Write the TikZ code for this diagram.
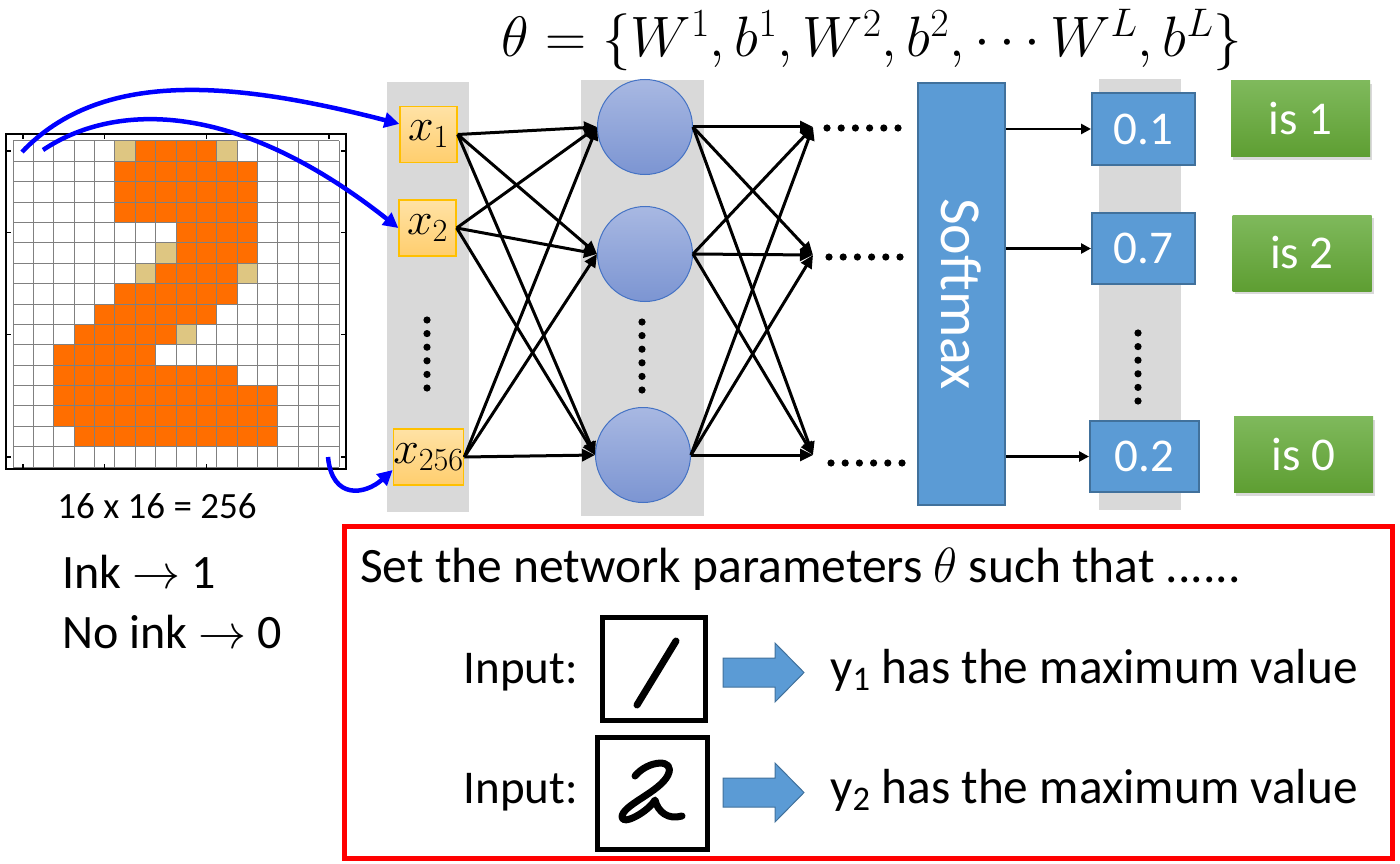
\RequirePackage{fix-cm}
\documentclass[tikz,border=0pt]{standalone}
\usepackage{fontspec}
\setmainfont{Carlito}
\usepackage{graphicx}
\usepackage{tikz}
\usetikzlibrary{arrows.meta,positioning,shadows}
\usepackage{xcolor}
\definecolor{inkblue}{RGB}{0,0,255}
\definecolor{colgray}{RGB}{217,217,217}
\definecolor{boxblue}{RGB}{91,155,213}
\definecolor{boxline}{RGB}{65,113,156}
\definecolor{inputtop}{RGB}{255,226,165}
\definecolor{inputbot}{RGB}{255,206,110}
\definecolor{inputline}{RGB}{255,192,0}
\definecolor{neurontop}{RGB}{168,184,226}
\definecolor{neuronbot}{RGB}{124,149,210}
\definecolor{neuronline}{RGB}{68,114,196}
\definecolor{greentop}{RGB}{127,185,92}
\definecolor{greenbot}{RGB}{94,158,50}
\definecolor{pixorange}{RGB}{255,110,0}
\definecolor{pixtan}{RGB}{222,198,130}
\definecolor{alertred}{RGB}{255,0,0}
\tikzset{
  column/.style={fill=colgray},
  xnode/.style={draw=inputline,top color=inputtop,bottom color=inputbot,line width=1.3pt,
    minimum width=57pt,minimum height=56pt,inner sep=0pt,font=\fontsize{46}{46}\selectfont},
  neuron/.style={circle,draw=neuronline,top color=neurontop,bottom color=neuronbot,
    line width=1pt,minimum size=95pt,inner sep=0pt},
  softbox/.style={draw=boxline,fill=boxblue,line width=2pt,minimum width=87pt,minimum height=422pt,
    inner sep=0pt,text=white,font=\fontsize{58}{58}\selectfont},
  outbox/.style={draw=boxline,fill=boxblue,line width=2pt,minimum width=103pt,minimum height=71pt,
    inner sep=0pt,text=white,font=\fontsize{47}{47}\selectfont},
  classbox/.style={top color=greentop,bottom color=greenbot,minimum width=139pt,minimum height=76pt,
    inner sep=0pt,text=white,font=\fontsize{47}{47}\selectfont,
    drop shadow={shadow xshift=2pt,shadow yshift=-3pt,opacity=0.3}},
  weight/.style={-{Triangle[length=13pt,width=12pt]},line width=3pt},
  probflow/.style={-{Triangle[length=10pt,width=10pt]},line width=2.5pt},
  inkflow/.style={-{Triangle[length=15pt,width=15pt]},line width=4.5pt,draw=inkblue},
  bodytext/.style={font=\fontsize{48}{56}\selectfont,inner sep=0pt},
  digitbox/.style={draw,line width=5pt,inner sep=0pt},
  penstroke/.style={line width=7pt,line cap=round,line join=round},
  bigarrow/.style={fill=boxblue,draw=boxline,line width=1pt},
  pixline/.style={draw=black!50,line width=1pt}
}
\newcommand{\dotrow}[2]{\foreach \k in {0,...,5} \fill (#1+\k*14.2,#2) circle (3.6pt);}
\newcommand{\dotcol}[2]{\foreach \k in {0,...,5} \fill (#1,#2+\k*13.6) circle (3.6pt);}

\begin{document}
\begin{tikzpicture}[x=1pt,y=-1pt]
  \useasboundingbox (0,0) rectangle (1400,864);
  % pixel image of the digit
  \begin{scope}[shift={(13,141)},x=20.375pt,y=-20.375pt]
    \foreach \r/\a/\b in {0/6/9,1/5/11,2/5/11,3/5/11,4/8/11,5/8/11,6/7/10,7/5/10,8/4/9,
        9/3/7,10/2/6,11/2/10,12/2/12,13/2/12,14/3/12}
      \fill[pixorange] (\a,\r) rectangle (\b+1,\r+1);
    \foreach \r/\a in {0/5,0/10,5/7,6/6,6/11,9/8}
      \fill[pixtan] (\a,\r) rectangle (\a+1,\r+1);
    \foreach \i in {0,...,16} {
      \draw[pixline] (\i,0) -- (\i,16);
      \draw[pixline] (0,\i) -- (16,\i);
    }
    \draw[line width=2pt] (-0.35,-0.35) rectangle (16.35,16.1);
    \foreach \t in {0.5,4.5,9.5,15.5} {
      \draw[line width=1.5pt] (\t,-0.35) -- (\t,-0.12);
      \draw[line width=1.5pt] (\t,16.1) -- (\t,15.87);
      \draw[line width=1.5pt] (-0.35,\t) -- (-0.12,\t);
      \draw[line width=1.5pt] (16.35,\t) -- (16.12,\t);
    }
  \end{scope}
  \node[bodytext,font=\fontsize{37}{37}\selectfont,anchor=base] (size) at (157,518) {16 x 16 = 256};
  \node[bodytext,anchor=base west] (ink) at (62,588) {Ink $\rightarrow$ 1};
  \node[bodytext,anchor=base west] (noink) at (62,648) {No ink $\rightarrow$ 0};

  % layer backgrounds
  \fill[column] (387,82) rectangle (469,512);
  \fill[column] (581,80) rectangle (704,516);
  \fill[column] (1099,79) rectangle (1181,510);

  \node[font=\fontsize{57}{57}\selectfont] (theta) at (872,40)
    {$\theta = \{W^1, b^1, W^2, b^2, \cdots W^L, b^L\}$};

  \node[xnode] (x1) at (428.5,134.5) {$x_1$};
  \node[xnode] (x2) at (427.5,228) {$x_2$};
  \node[xnode] (x3) at (428.5,457) {$x_{256}$};
  \dotcol{427}{320}

  \node[neuron] (h1) at (645,127) {};
  \node[neuron] (h2) at (645,254) {};
  \node[neuron] (h3) at (643,455) {};
  \dotcol{642}{322}

  \coordinate (d1) at (813,127);
  \coordinate (d2) at (813,255);
  \coordinate (d3) at (813,455);
  \dotrow{827}{128}
  \dotrow{829}{257}
  \dotrow{831}{463}

  \node[softbox] (sm) at (961.5,294) {\rotatebox{-90}{Softmax}};

  \node[outbox] (o1) at (1143.5,129) {0.1};
  \node[outbox] (o2) at (1143.5,248.5) {0.7};
  \node[outbox,minimum width=109pt] (o3) at (1144.5,456.5) {0.2};
  \dotcol{1138}{333}

  \node[classbox] (c1) at (1300.5,119) {is 1};
  \node[classbox] (c2) at (1302,253) {is 2};
  \node[classbox] (c3) at (1303.5,454.5) {is 0};

  \draw[inkflow] (22,152) .. controls (100,70) and (230,80) .. (x1.160);
  \draw[inkflow] (43,150) .. controls (110,105) and (230,95) .. (x2.west);
  \draw[inkflow] (328,457) .. controls (332,500) and (365,495) .. (x3.200);

  \draw[weight] (x1.east) -- (h1.west);
  \draw[weight] (x1.east) -- (h2.west);
  \draw[weight] (x1.east) -- (h3.west);
  \draw[weight] (x2.east) -- (h1.west);
  \draw[weight] (x2.east) -- (h2.west);
  \draw[weight] (x2.east) -- (h3.west);
  \draw[weight] (x3.east) -- (h1.west);
  \draw[weight] (x3.east) -- (h2.west);
  \draw[weight] (x3.east) -- (h3.west);

  \draw[weight] (h1.east) -- (d1);
  \draw[weight] (h1.east) -- (d2);
  \draw[weight] (h1.east) -- (d3);
  \draw[weight] (h2.east) -- (d1);
  \draw[weight] (h2.east) -- (d2);
  \draw[weight] (h2.east) -- (d3);
  \draw[weight] (h3.east) -- (d1);
  \draw[weight] (h3.east) -- (d2);
  \draw[weight] (h3.east) -- (d3);

  \draw[probflow] (sm.east |- o1.west) -- (o1.west);
  \draw[probflow] (sm.east |- o2.west) -- (o2.west);
  \draw[probflow] (sm.east |- o3.west) -- (o3.west);

  % goal box
  \draw[alertred,line width=5pt] (344.5,526.5) rectangle (1392.5,858.5);
  \node[bodytext,font=\fontsize{49.5}{56}\selectfont,anchor=base west] (goal) at (360,582) {Set the network parameters $\theta$ such that ......};

  \node[bodytext,font=\fontsize{47}{56}\selectfont,anchor=base east] (in1) at (578,683) {Input:};
  \node[digitbox,minimum width=103pt,minimum height=103pt] (img1) at (653.5,668.5) {};
  \draw[penstroke] (637,705) -- (676,641);
  \draw[bigarrow] (723,658) -- (775,658) -- (775,643) -- (804,672.5) -- (775,702) -- (775,687) -- (723,687) -- cycle;
  \node[bodytext,font=\fontsize{49.3}{56}\selectfont,anchor=base west] (res1) at (830,683) {y\textsubscript{1} has the maximum value};

  \node[bodytext,font=\fontsize{47}{56}\selectfont,anchor=base east] (in2) at (578,803) {Input:};
  \node[digitbox,minimum width=110pt,minimum height=112pt] (img2) at (652,793) {};
  \draw[penstroke] (635,776) .. controls (648,760) and (676,758) .. (668,775)
    .. controls (660,792) and (622,805) .. (622,817)
    .. controls (622,826) and (648,812) .. (655,800)
    .. controls (658,812) and (668,820) .. (682,816);
  \draw[bigarrow] (723,778) -- (775,778) -- (775,763) -- (804,792.5) -- (775,822) -- (775,807) -- (723,807) -- cycle;
  \node[bodytext,font=\fontsize{49.3}{56}\selectfont,anchor=base west] (res2) at (830,803) {y\textsubscript{2} has the maximum value};
\end{tikzpicture}
\end{document}
